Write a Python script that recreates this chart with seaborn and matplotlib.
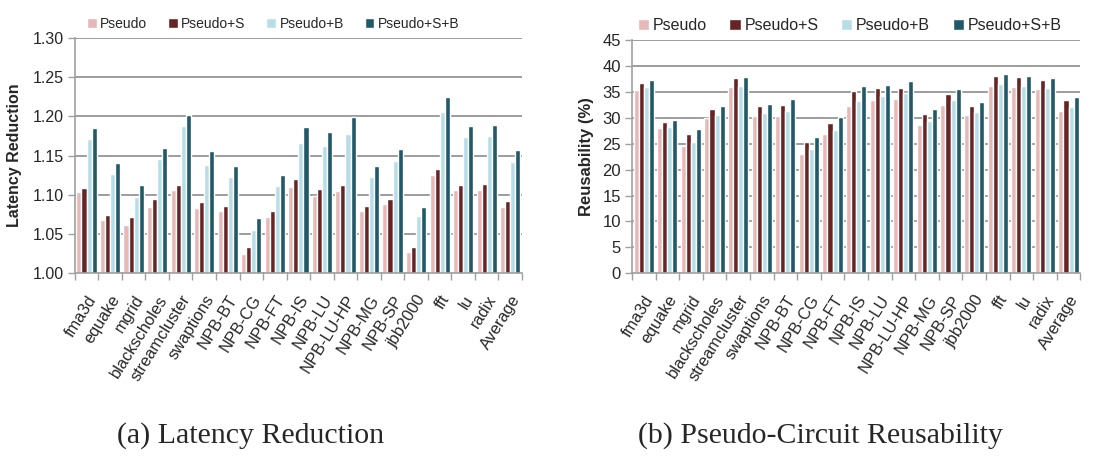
import numpy as np
import pandas as pd
import matplotlib
matplotlib.use("Agg")
import matplotlib.pyplot as plt
import matplotlib.transforms as mtrans
import seaborn as sns

categories = ["fma3d", "equake", "mgrid", "blackscholes", "streamcluster", "swaptions",
              "NPB-BT", "NPB-CG", "NPB-FT", "NPB-IS", "NPB-LU", "NPB-LU-HP", "NPB-MG",
              "NPB-SP", "jbb2000", "fft", "lu", "radix", "Average"]
series = ["Pseudo", "Pseudo+S", "Pseudo+B", "Pseudo+S+B"]

lat_pseudo = [1.103, 1.068, 1.062, 1.085, 1.106, 1.083, 1.079, 1.024, 1.071, 1.110,
              1.098, 1.105, 1.079, 1.088, 1.027, 1.125, 1.106, 1.106, 1.084]
lat_s = [1.109, 1.074, 1.072, 1.094, 1.113, 1.091, 1.086, 1.033, 1.079, 1.120,
         1.107, 1.113, 1.086, 1.095, 1.033, 1.133, 1.113, 1.114, 1.092]
lat_b = [1.171, 1.126, 1.097, 1.145, 1.187, 1.138, 1.122, 1.055, 1.111, 1.166,
         1.162, 1.178, 1.123, 1.143, 1.073, 1.206, 1.173, 1.175, 1.142]
lat_sb = [1.185, 1.140, 1.113, 1.160, 1.202, 1.156, 1.137, 1.070, 1.125, 1.186,
          1.180, 1.199, 1.137, 1.158, 1.084, 1.225, 1.188, 1.189, 1.157]

reu_pseudo = [35.4, 28.1, 24.5, 30.0, 35.9, 30.4, 30.3, 23.1, 26.8, 32.2,
              33.4, 33.6, 28.7, 32.5, 30.6, 36.2, 36.0, 35.5, 31.3]
reu_s = [36.8, 29.2, 26.8, 31.8, 37.6, 32.2, 32.5, 25.4, 29.0, 35.2,
         35.7, 35.8, 30.7, 34.6, 32.3, 38.0, 37.8, 37.3, 33.4]
reu_b = [35.9, 28.3, 25.3, 30.5, 36.2, 30.9, 31.3, 23.9, 27.7, 33.2,
         34.2, 34.8, 29.4, 33.4, 31.1, 36.5, 36.1, 35.8, 32.0]
reu_sb = [37.4, 29.5, 27.8, 32.2, 37.8, 32.7, 33.6, 26.3, 30.2, 36.2,
          36.4, 37.1, 31.7, 35.5, 33.0, 38.4, 38.1, 37.7, 34.0]

lat_ticks = [1.00, 1.05, 1.10, 1.15, 1.20, 1.25, 1.30]
reu_ticks = [0, 5, 10, 15, 20, 25, 30, 35, 40, 45]

colors = ["#E6B9B8", "#672424", "#B7DEE8", "#215968"]

sns.set_theme(style="white")
plt.rcParams['font.family'] = ['Liberation Sans', 'DejaVu Sans']


def long_df(vals):
    rows = []
    for s, v in zip(series, vals):
        for c, x in zip(categories, v):
            rows.append({"cat": c, "series": s, "val": x})
    return pd.DataFrame(rows)


fig = plt.figure(figsize=(10.99, 4.67), dpi=100)
ax1 = fig.add_axes([0.068, 0.415, 0.407, 0.504])
ax2 = fig.add_axes([0.575, 0.415, 0.408, 0.499])


def draw(ax, vals, ticks, ylim, ylabel, fmt, ytsize, legsize, ylsize, legx, colsp):
    df = long_df(vals)
    sns.barplot(data=df, x="cat", y="val", hue="series", palette=colors,
                width=0.86, ax=ax, saturation=1, legend=True)
    ax.set_ylim(*ylim)
    ax.set_xlim(-0.5, len(categories) - 0.5)
    ax.set_yticks(ticks)
    ax.set_yticklabels([fmt.format(t) for t in ticks], fontsize=ytsize)
    ax.yaxis.grid(True, color="#8c8c8c", linewidth=1.2)
    ax.set_axisbelow(True)
    ax.set_xlabel("")
    ax.set_ylabel(ylabel, fontsize=ylsize, fontweight="bold")
    ax.set_xticks(range(len(categories)))
    ax.set_xticklabels(categories, rotation=58, ha="right",
                       rotation_mode="anchor", fontsize=11.8)
    offset = mtrans.ScaledTranslation(5 / 100, 0, fig.dpi_scale_trans)
    for lab in ax.get_xticklabels():
        lab.set_transform(lab.get_transform() + offset)
    ax.set_xticks(np.arange(-0.5, len(categories)), minor=True)
    ax.tick_params(axis="x", which="major", length=0, pad=14)
    ax.tick_params(axis="x", which="minor", length=5, color="#a0a0a0", width=1, bottom=True)
    ax.tick_params(axis="y", which="major", length=5, color="#a0a0a0", width=1, left=True, pad=3)
    for side in ["top", "right"]:
        ax.spines[side].set_visible(False)
    for side in ["left", "bottom"]:
        ax.spines[side].set_color("#a0a0a0")
        ax.spines[side].set_linewidth(1.2)
    h, l = ax.get_legend_handles_labels()
    ax.legend(h, l, loc="lower left", bbox_to_anchor=(legx, 1.03), ncol=4,
              frameon=False, fontsize=legsize, handlelength=0.7, handleheight=0.7,
              handletextpad=0.25, columnspacing=colsp, borderaxespad=0, borderpad=0)


draw(ax1, [lat_pseudo, lat_s, lat_b, lat_sb], lat_ticks, (1.0, 1.3),
     "Latency Reduction", "{:.2f}", 11.5, 10, 11.5, 0.027, 1.5)
draw(ax2, [reu_pseudo, reu_s, reu_b, reu_sb], reu_ticks, (0, 45),
     "Reusability (%)", "{:d}", 12, 11.5, 12, 0.013, 1.4)
ax1.yaxis.set_label_coords(-0.118, 0.5)
ax2.yaxis.set_label_coords(-0.085, 0.5)

fig.text(0.228, 0.068, "(a) Latency Reduction", fontsize=21.5,
         family=["Liberation Serif", "DejaVu Serif"], ha="center", va="center")
fig.text(0.747, 0.068, "(b) Pseudo-Circuit Reusability", fontsize=21.5,
         family=["Liberation Serif", "DejaVu Serif"], ha="center", va="center")

fig.savefig("out.png", dpi=100)
